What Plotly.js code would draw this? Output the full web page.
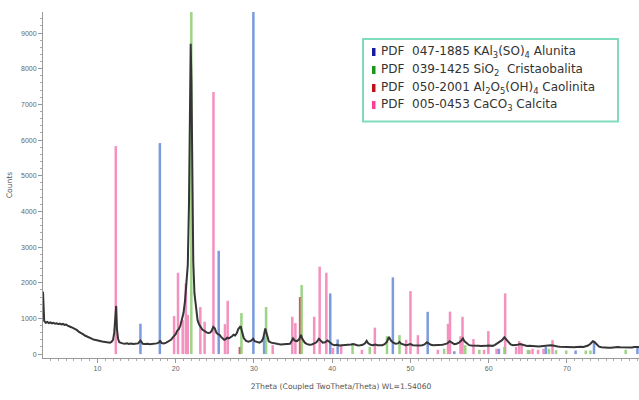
<!DOCTYPE html>
<html>
<head>
<meta charset="utf-8">
<script src="https://cdn.plot.ly/plotly-3.0.1.min.js"></script>
<style>html,body{margin:0;padding:0;background:#fff;}#chart{width:639px;height:400px;}</style>
</head>
<body>
<div id="chart"></div>
<script>
// Measured diffractogram (2Theta, Counts)
const twoTheta = [3.05,3.12,3.2,3.4,3.6,3.8,4.0,4.2,4.4,4.6,4.8,5.0,5.2,5.4,5.6,5.8,6.0,6.2,6.4,6.6,6.8,7.0,7.2,7.4,7.6,7.8,8.0,8.2,8.4,8.6,8.8,9.0,9.2,9.4,9.6,9.8,10.0,10.2,10.4,10.6,10.8,11.0,11.2,11.4,11.6,11.8,12.0,12.15,12.3,12.4,12.5,12.65,12.8,13.0,
13.2,13.5,13.8,14.0,14.3,14.6,14.9,15.2,15.5,15.8,16.1,16.4,16.7,17.0,17.3,17.6,17.9,18.0,18.2,18.5,18.8,19.1,19.4,19.7,20.0,
20.2,20.4,20.6,20.8,21.0,21.2,21.4,21.55,21.7,21.82,21.92,22.02,22.12,22.25,22.4,22.6,22.8,23.0,23.2,23.4,23.6,23.8,24.0,24.2,24.4,24.6,24.8,25.0,25.2,25.4,25.6,25.8,26.0,26.2,26.4,26.6,26.8,27.0,27.2,27.4,27.6,27.8,28.0,28.3,28.5,28.7,29.0,29.3,29.6,29.9,30.1,30.4,30.7,31.0,31.2,31.45,31.65,31.9,32.2,32.5,32.8,33.1,33.4,33.7,34.0,34.3,34.6,34.8,35.0,35.2,35.5,35.8,36.0,36.2,36.5,36.8,37.1,37.4,37.7,38.0,38.3,38.5,38.8,39.1,39.4,39.7,40.0,40.3,40.6,40.9,41.2,41.5,41.8,42.1,42.4,42.7,43.0,43.3,43.6,43.9,44.2,44.4,44.6,44.9,45.2,45.5,45.8,46.1,46.4,46.7,47.0,47.25,47.5,47.8,48.1,48.4,48.6,48.8,49.1,49.4,49.7,50.0,50.3,50.6,50.9,51.2,51.5,51.8,52.1,52.3,52.6,52.9,53.2,53.5,53.8,54.1,54.4,54.7,55.0,55.3,55.6,55.9,56.2,56.5,56.7,56.9,57.2,57.5,57.8,58.1,58.4,58.7,59.0,59.3,59.6,59.9,60.2,60.5,60.8,61.1,61.4,61.7,62.0,62.2,62.5,62.8,63.1,63.4,63.7,64.0,64.3,64.6,64.9,65.2,65.5,65.8,66.1,66.4,66.7,67.0,67.3,67.6,67.9,68.2,68.5,68.8,69.1,69.4,69.7,70.0,70.3,70.6,70.9,71.2,71.5,71.8,72.1,72.4,72.7,73.0,73.3,73.5,73.8,74.1,74.4,74.7,75.0,75.3,75.6,75.9,76.2,76.5,76.8,77.1,77.4,77.7,78.0,78.3,78.6,78.9,79.2];
const counts = [1750,1050,930,880,900,870,890,860,875,850,865,840,855,830,845,820,830,800,790,760,740,720,690,670,630,610,570,550,520,500,470,450,430,420,400,395,380,370,360,350,345,335,330,325,320,340,400,600,1300,1350,700,420,330,310,
300,290,300,285,295,280,290,300,380,290,280,290,275,285,280,300,330,380,310,300,320,350,400,480,560,
650,700,800,950,1150,1500,2000,2500,4200,7200,8700,7600,4500,2600,1700,1250,950,830,760,690,660,620,600,590,600,650,760,720,600,560,540,480,430,400,420,460,440,460,500,540,520,580,700,780,600,450,370,350,370,430,360,330,320,360,450,720,550,360,320,300,290,280,270,275,265,270,290,360,440,380,360,420,540,420,320,280,260,270,300,330,430,380,320,330,380,330,270,250,260,240,245,235,240,250,270,280,250,240,245,260,300,370,300,260,250,270,250,240,250,280,350,480,380,320,290,300,340,290,260,250,260,280,250,240,250,240,250,270,330,300,260,245,250,240,250,260,280,300,360,330,280,290,320,380,440,360,290,250,240,230,225,230,225,220,230,240,235,230,260,300,330,390,470,420,320,270,250,245,260,280,260,240,225,230,220,215,220,210,220,230,250,260,250,240,220,215,205,200,190,185,180,185,190,200,210,205,200,210,240,290,360,340,260,210,190,180,175,180,175,185,190,195,190,185,180,185,190,185,200,210,200];

// Reference patterns (stick positions and heights)
const aluX = [15.5,17.98,25.5,29.93,31.3,39.75,40.7,47.75,52.2,55.6,61.3,67.3,71.1,73.45,79.0];
const aluH = [850,5915,2895,9800,500,1700,410,2150,1185,80,150,200,100,345,200];
const criX = [22.0,28.4,31.55,36.1,42.6,44.8,47.0,48.6,54.3,57.0,58.8,62.0,65.0,67.7,68.6,69.9,72.4,73.0,77.5];
const criH = [9800,1150,1320,1935,300,200,500,530,150,250,120,200,120,150,110,100,100,100,120];
const caoX = [28.2,35.9];
const caoH = [200,1600];
const calX = [12.35,19.8,20.3,20.9,21.3,21.55,23.15,23.7,24.83,26.3,26.65,32.4,34.9,35.3,37.7,38.4,39.25,40.1,41.15,43.8,45.45,49.45,50.0,50.95,53.5,54.8,55.05,56.4,56.65,58.05,59.4,59.95,61.0,62.1,63.5,63.9,64.2,65.2,65.6,66.3,67.0,68.15];
const calH = [5830,1065,2280,950,1980,1100,1320,905,7345,840,1495,250,1045,870,1045,2450,2280,170,250,120,740,400,1765,530,120,850,1190,500,1045,420,120,645,150,1700,200,365,300,110,150,120,150,390];

// Legend entries
const legendNames = [
  'PDF  047-1885 KAl<sub>3</sub>(SO)<sub>4</sub> Alunita',
  'PDF  039-1425 SiO<sub>2</sub>  Cristaobalita',
  'PDF  050-2001 Al<sub>2</sub>O<sub>5</sub>(OH)<sub>4</sub> Caolinita',
  'PDF  005-0453 CaCO<sub>3</sub> Calcita'
];
const legendColors = ['#1a1a9c', '#1a961a', '#c0101a', '#ff3d98'];
const xTitle = '2Theta (Coupled TwoTheta/Theta) WL=1.54060';
const yTitle = 'Counts';

function sticks(xs, hs) {
  const x = [], y = [];
  xs.forEach((v, i) => { x.push(v, v, null); y.push(0, hs[i], null); });
  return {x, y};
}
function stickTrace(xs, hs, color, name) {
  const s = sticks(xs, hs);
  return {type: 'scatter', mode: 'lines', x: s.x, y: s.y, name: name,
    line: {color: color, width: 2.5}, opacity: 0.9, hoverinfo: 'skip', showlegend: false};
}

const traces = [
  stickTrace(calX, calH, '#f386b8', 'Calcita'),
  stickTrace(caoX, caoH, '#d8405e', 'Caolinita'),
  stickTrace(aluX, aluH, '#6d90dc', 'Alunita'),
  stickTrace(criX, criH, '#92cf78', 'Cristaobalita'),
  {type: 'scatter', mode: 'lines', x: twoTheta, y: counts, name: 'Counts',
   line: {color: '#353535', width: 2}, hoverinfo: 'skip', showlegend: false}
];

// plot area in pixels: x 43..639, y 12..358
const PL = 43, PW = 596, PT = 12, PH = 346;
const px = v => (v - PL) / PW;
const py = v => (PT + PH - v) / PH;

const shapes = [{type: 'rect', xref: 'paper', yref: 'paper',
  x0: px(363), x1: px(618), y0: py(39), y1: py(121.5),
  line: {color: '#7fdcbf', width: 2}, fillcolor: '#ffffff', layer: 'above'}];
const annotations = [];
const lineY = [52, 70, 88, 105];
legendNames.forEach((n, i) => {
  shapes.push({type: 'rect', xref: 'paper', yref: 'paper',
    x0: px(372), x1: px(375.5), y0: py(lineY[i] + 4), y1: py(lineY[i] - 4),
    line: {width: 0}, fillcolor: legendColors[i], layer: 'above'});
  annotations.push({xref: 'paper', yref: 'paper', x: px(379), y: py(lineY[i]),
    xanchor: 'left', yanchor: 'middle', showarrow: false, text: n,
    font: {family: 'DejaVu Sans, Verdana, sans-serif', size: 12, color: '#333'}});
});

const tickFont = {family: 'Liberation Sans, Arial, sans-serif', size: 7, color: '#666'};
const layout = {
  width: 639, height: 400,
  margin: {l: PL, r: 0, t: PT, b: 400 - PT - PH},
  paper_bgcolor: '#fff', plot_bgcolor: '#fff',
  showlegend: false,
  xaxis: {range: [3.05, 79.2], showgrid: false, zeroline: false,
    showline: true, linecolor: '#999', linewidth: 1,
    ticks: 'outside', ticklen: 4, tickcolor: '#999', tick0: 0, dtick: 10,
    minor: {ticks: 'outside', ticklen: 2, tickcolor: '#aaa', dtick: 1},
    tickfont: tickFont,
    title: {text: xTitle, font: {family: 'DejaVu Sans, Verdana, sans-serif', size: 7.6, color: '#555'}, standoff: 12}},
  yaxis: {range: [-110, 9590], showgrid: false, zeroline: false,
    showline: true, linecolor: '#999', linewidth: 1,
    ticks: 'outside', ticklen: 4, tickcolor: '#999', tick0: 0, dtick: 1000,
    minor: {ticks: 'outside', ticklen: 2, tickcolor: '#aaa', dtick: 200},
    tickfont: tickFont,
    title: {text: yTitle, font: {family: 'DejaVu Sans, Verdana, sans-serif', size: 7.6, color: '#555'}, standoff: 7}},
  shapes: shapes,
  annotations: annotations
};
Plotly.newPlot('chart', traces, layout, {staticPlot: true, displayModeBar: false});
</script>
</body>
</html>
